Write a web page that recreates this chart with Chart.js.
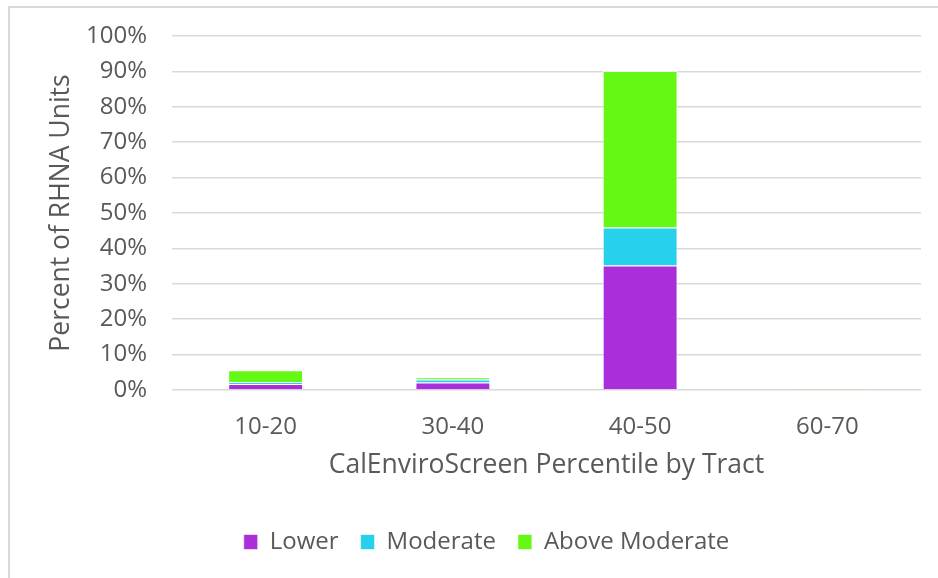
<!DOCTYPE html>
<html>
<head>
<meta charset="utf-8">
<script src="https://cdn.jsdelivr.net/npm/chart.js@4.4.1/dist/chart.umd.min.js"></script>
<style>
  html, body { margin: 0; padding: 0; background: #fff; }
  #frame { position: absolute; left: 8px; top: 6px; width: 1000px; height: 1000px; border: 2px solid #d9d9d9; box-sizing: border-box; }
  #wrap { position: absolute; left: 0; top: 0; width: 938px; height: 578px; }
</style>
</head>
<body>
<div id="frame"></div>
<div id="wrap"><canvas id="rhnaChart" width="938" height="578"></canvas></div>
<script>
// ---------- Data ----------
const categories = ['10-20', '30-40', '40-50', '60-70'];
const lowerUnits = [1.7, 2.1, 35.2, 0];
const moderateUnits = [0.5, 0.9, 10.7, 0];
const aboveModerateUnits = [3.4, 0.6, 44.2, 0.1];
const seriesNames = ['Lower', 'Moderate', 'Above Moderate'];
const seriesColors = ['#ab2edb', '#27d0eb', '#64f814'];

const textColor = '#595959';
const gridColor = '#d9d9d9';
const fontFamily = '"Open Sans", "Noto Sans", sans-serif';

function makeDataset(i, values) {
  return {
    label: seriesNames[i],
    data: values,
    backgroundColor: seriesColors[i],
    borderColor: 'rgba(255,255,255,0.6)',
    borderWidth: 1,
    barPercentage: 0.4,
    categoryPercentage: 1
  };
}

// nudge the legend right so it sits under the plot like the original
const legendShift = {
  id: 'legendShift',
  afterLayout(chart) {
    if (chart.legend) {
      chart.legend.left += 26;
      chart.legend.right += 26;
    }
  }
};

const ctx = document.getElementById('rhnaChart').getContext('2d');
new Chart(ctx, {
  type: 'bar',
  data: {
    labels: categories,
    datasets: [
      makeDataset(0, lowerUnits),
      makeDataset(1, moderateUnits),
      makeDataset(2, aboveModerateUnits)
    ]
  },
  plugins: [legendShift],
  options: {
    responsive: false,
    animation: false,
    layout: { padding: { left: 0, right: 17, top: 36, bottom: 14 } },
    plugins: {
      tooltip: { enabled: false },
      legend: {
        position: 'bottom',
        labels: {
          color: textColor,
          font: { family: fontFamily, size: 24 },
          boxWidth: 14,
          boxHeight: 15,
          padding: 22
        }
      }
    },
    scales: {
      x: {
        stacked: true,
        grid: { display: false, drawTicks: false },
        border: { display: false },
        ticks: { color: textColor, font: { family: fontFamily, size: 24 }, padding: 23 },
        title: {
          display: true,
          text: 'CalEnviroScreen Percentile by Tract',
          color: textColor,
          font: { family: fontFamily, size: 26.5 },
          padding: { top: 10, bottom: 27 }
        },
        afterFit: function (scale) { scale.height = 118; }
      },
      y: {
        stacked: true,
        min: 0,
        max: 100,
        grid: { color: gridColor, lineWidth: 1.5, drawTicks: false },
        border: { display: false },
        ticks: {
          stepSize: 10,
          color: textColor,
          font: { family: fontFamily, size: 24 },
          padding: 25,
          callback: v => v + '%'
        },
        title: {
          display: true,
          text: 'Percent of RHNA Units',
          color: textColor,
          font: { family: fontFamily, size: 26.5 },
          padding: { top: 46, bottom: 0 }
        },
        afterFit: function (scale) {
          scale.width = 172;
          scale.paddingTop = 0;
          scale.paddingBottom = 0;
        }
      }
    }
  }
});
</script>
</body>
</html>
